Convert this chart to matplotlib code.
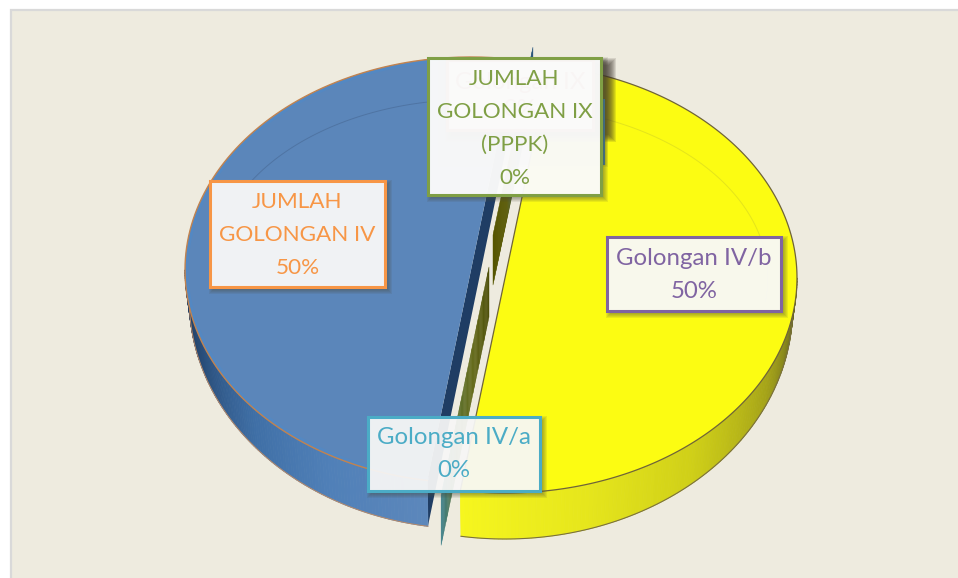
import numpy as np
import matplotlib
matplotlib.use('Agg')
import matplotlib.pyplot as plt
from matplotlib.collections import PolyCollection
from matplotlib.colors import LinearSegmentedColormap
from matplotlib.patches import Rectangle, Polygon

# data of the chart
categories = ['JUMLAH\nGOLONGAN IV', 'Golongan IV/a', 'Golongan IV/b', 'Golongan IX', 'JUMLAH\nGOLONGAN IX\n(PPPK)']
values = [50, 0, 50, 0, 0]
percent_labels = ['50%', '0%', '50%', '0%', '0%']

BG = '#eeebdf'
plt.rcParams['font.family'] = ['Lato', 'DejaVu Sans']

fig = plt.figure(figsize=(9.58, 5.78), dpi=100, facecolor='white')
ax = fig.add_axes([0, 0, 1, 1])
ax.set_xlim(0, 958)
ax.set_ylim(578, 0)
ax.axis('off')
ax.add_patch(Rectangle((11, 10), 960, 580, fc=BG, ec='#d9d9d9', lw=1.6, zorder=0))

# slice angles follow the values, going round from the start angle
START = 81.2
sweep = np.array(values) / np.sum(values) * 360
begin = START + np.concatenate([[0], np.cumsum(sweep)[:-1]])
end = begin + sweep

# centre x, centre y, radius x, radius y of each exploded slice
geom = [(471, 270, 286, 213), (489, 267, 313, 231), (505, 278, 292, 215),
        (493, 235, 261, 190), (493, 235, 261, 190)]
DEPTH = 30
EXTRA = 16


def top_pt(g, a):
    a = np.radians(a)
    return np.column_stack([g[0] + g[2] * np.cos(a), g[1] - g[3] * np.sin(a)])


def low_pt(g, a):
    a = np.radians(a)
    return np.column_stack([g[0] + g[2] * 0.985 * np.cos(a),
                            g[1] + DEPTH - (g[3] + EXTRA) * np.sin(a)])


def side(g, a0, a1, cmap, z):
    # rim of the slice, small quads so that it can shade along the arc
    a = np.linspace(a0, a1, 120)
    t, b = top_pt(g, a), low_pt(g, a)
    quads = [[t[i], t[i + 1], b[i + 1], b[i]] for i in range(len(a) - 1)]
    cols = cmap(np.linspace(0, 1, len(quads)))
    ax.add_collection(PolyCollection(quads, facecolors=cols, edgecolors=cols, lw=0.6, zorder=z))


def sliver(g, a, colors, z):
    # a slice with value 0 only shows its cut face
    cmap = LinearSegmentedColormap.from_list('s', colors)
    c = np.array([[g[0], g[1]]])
    q = top_pt(g, a)
    d = np.array([[0, 50]])
    s = np.linspace(0, 1, 40)
    quads = []
    for i in range(len(s) - 1):
        p0 = c + (q - c) * s[i]
        p1 = c + (q - c) * s[i + 1]
        quads.append([p0[0], p1[0], (p1 + d)[0], (p0 + d)[0]])
    cols = cmap(s[:-1])
    ax.add_collection(PolyCollection(quads, facecolors=cols, edgecolors=cols, lw=0.3, zorder=z))


blue_side = LinearSegmentedColormap.from_list('b', ['#1d3554', '#2a4f7c', '#3f6fa6', '#5080b8', '#5c87bb'])
yellow_side = LinearSegmentedColormap.from_list('y', ['#f6f61e', '#e6e61c', '#cfcf18', '#a5a318', '#5f5f22'])

# zero slices lie behind the big ones
sliver(geom[3], end[3], ['#565600', '#565600', '#3b6a78', '#24507a'], 2)
sliver(geom[1], end[1], ['#4e500a', '#666c1c', '#5e7230', '#3b8090'], 2)

# yellow slice
g = geom[2]
side(g, 261.2, 360, yellow_side, 3)
low = low_pt(g, np.linspace(261.2, 360, 120))
ax.plot(low[:, 0], low[:, 1], color='#7a7040', lw=0.8, zorder=3.5)
a = np.linspace(begin[2], end[2], 240)
pts = top_pt(g, a)
ax.add_patch(Polygon(pts, closed=True, fc='#fcfc12', ec='#6f6438', lw=0.9, zorder=4))
inner = (g[0], g[1], g[2] * 0.9, g[3] * 0.8)
arc = top_pt(inner, np.linspace(-8, 81, 80))
ax.plot(arc[:, 0], arc[:, 1], color='#e4e41c', lw=0.7, zorder=5)

# blue slice with its dark cut face
g = geom[0]
q1, q2 = top_pt(g, begin[0]), top_pt(g, end[0])
ax.add_patch(Polygon([q1[0], q2[0], low_pt(g, end[0])[0], q1[0] + [0, 47]], closed=True,
                     fc='#1f3d64', ec='none', zorder=5))
side(g, 180, 261.2, blue_side, 5)
low = low_pt(g, np.linspace(180, 261.2, 100))
ax.plot(low[:, 0], low[:, 1], color='#b98a68', lw=0.7, zorder=5.5)
a = np.linspace(begin[0], end[0], 240)
pts = top_pt(g, a)
ax.add_patch(Polygon(pts, closed=True, fc='#5b86ba', ec='none', zorder=6))
ring = top_pt((g[0], g[1], g[2] - 2, g[3] - 2), a)
ax.plot(ring[:, 0], ring[:, 1], color='#4d8acb', lw=2.2, alpha=0.55, zorder=6.1)
ax.plot(pts[:, 0], pts[:, 1], color='#c2834f', lw=1.0, zorder=6.2)
inner = (g[0], g[1], g[2] * 0.9, g[3] * 0.8)
arc = top_pt(inner, np.linspace(98, 186, 80))
ax.plot(arc[:, 0], arc[:, 1], color='#4f74a3', lw=0.7, zorder=7)


def shadow(x0, y0, x1, y1, col, z, off=3, grow=5, alpha=0.10):
    for k in range(grow):
        ax.add_patch(Rectangle((x0 + off - k, y0 + off - k), x1 - x0 + 2 * k, y1 - y0 + 2 * k,
                               fc=col, ec='none', alpha=alpha, zorder=z))


def label(i, box, ec, size=17.3, fa=0.92, z=10, ls=1.72, dy=1):
    x0, y0, x1, y1 = box
    shadow(x0, y0, x1, y1, '#4a4a3a', z - 0.5)
    ax.add_patch(Rectangle((x0, y0), x1 - x0, y1 - y0, fc='white', ec='none', alpha=fa, zorder=z))
    ax.add_patch(Rectangle((x0, y0), x1 - x0, y1 - y0, fc='none', ec=ec, lw=2.2, zorder=z + 0.1))
    ax.text((x0 + x1) / 2, (y0 + y1) / 2 + dy, categories[i] + '\n' + percent_labels[i], color=ec,
            fontsize=size, ha='center', va='center', linespacing=ls, zorder=z + 0.2)


# two labels sit under the green one, as in the original
shadow(447, 60, 604, 130, '#3a3028', 8, off=5, grow=8, alpha=0.13)
shadow(438, 60, 604, 163, '#3a3028', 8, off=2, grow=3, alpha=0.08)
ax.plot([604, 604], [100, 164], color='#3f7fa8', lw=1.4, zorder=8.4)
label(3, (447, 60, 593, 130), '#c0504d', z=9, fa=0.9, ls=1.4)

label(0, (210, 181, 385, 287), '#f79646', size=16.2, ls=1.82, dy=1)
label(1, (368, 417, 540, 491), '#4bacc6', fa=0.9, ls=1.66, dy=0)
label(2, (607, 237, 781, 311), '#8064a2', dy=1)
label(4, (428, 58, 601, 195), '#7f9f45', size=16.2, fa=0.95, z=11, ls=1.82, dy=2)

fig.savefig('out.png', dpi=100, facecolor='white')
